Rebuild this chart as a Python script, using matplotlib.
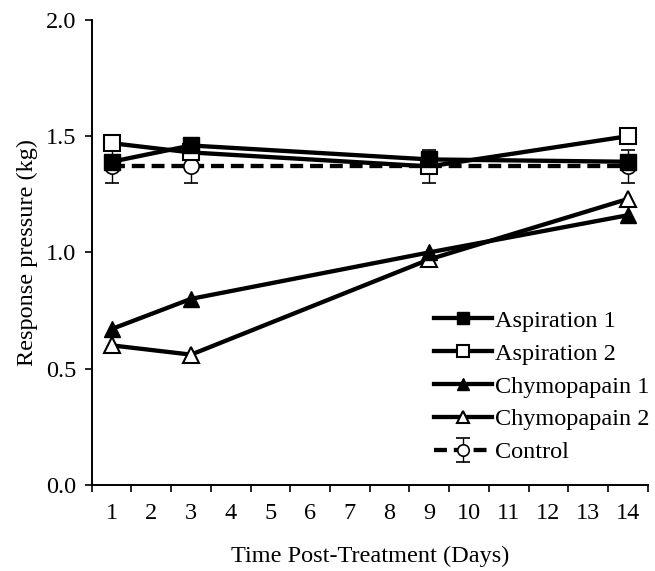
import numpy as np
import matplotlib
matplotlib.use("Agg")
import matplotlib.pyplot as plt

plt.rcParams['font.family'] = ['Liberation Serif', 'DejaVu Serif']

# Data
days = [1, 3, 9, 14]
aspiration_1 = [1.39, 1.46, 1.40, 1.39]
aspiration_2 = [1.47, 1.43, 1.37, 1.50]
chymopapain_1 = [0.67, 0.80, 1.00, 1.16]
chymopapain_2 = [0.60, 0.56, 0.97, 1.23]
control = [1.37, 1.37, 1.37, 1.37]
control_err = [0.07, 0.07, 0.07, 0.07]

tick_days = list(range(1, 15))
y_ticks = [0.0, 0.5, 1.0, 1.5, 2.0]

fs = 17.5
fig = plt.figure(figsize=(6.55, 5.71), dpi=100)
ax = fig.add_axes([0.140, 0.151, 0.849, 0.814])

lw = 3.1
ms = 11

ax.errorbar(days, control, yerr=control_err, fmt='o', color='black', mfc='white',
            ms=ms, mew=1.2, ls='--', lw=lw, dashes=(3, 1.6), ecolor='black',
            elinewidth=1, capsize=5, capthick=1, label='Control', zorder=2)
ax.plot(days, chymopapain_2, marker='^', color='black', mfc='white', ms=ms + 1,
        mew=1.5, lw=lw, label='Chymopapain 2', zorder=3)
ax.plot(days, chymopapain_1, marker='^', color='black', mfc='black', ms=ms + 1,
        lw=lw, label='Chymopapain 1', zorder=4)
ax.plot(days, aspiration_2, marker='s', color='black', mfc='white', ms=ms + 1,
        mew=1.5, lw=lw, label='Aspiration 2', zorder=5)
ax.plot(days, aspiration_1, marker='s', color='black', mfc='black', ms=ms + 1,
        lw=lw, label='Aspiration 1', zorder=6)

ax.set_xlim(0.5, 14.5)
ax.set_ylim(0, 2.0)
ax.set_xticks(tick_days)
ax.set_xticklabels([str(d) for d in tick_days])
ax.set_xticks(np.arange(0.5, 15, 1), minor=True)
ax.tick_params(axis='x', which='major', length=0, pad=13, labelsize=fs)
ax.tick_params(axis='x', which='minor', length=5, width=1.2, direction='out')
ax.set_yticks(y_ticks)
ax.set_yticklabels([f"{v:.1f}" for v in y_ticks])
ax.tick_params(axis='y', length=5, width=1.2, direction='out', labelsize=fs, pad=6)

for side in ['top', 'right']:
    ax.spines[side].set_visible(False)
for side in ['left', 'bottom']:
    ax.spines[side].set_linewidth(1.4)

ax.set_xlabel('Time Post-Treatment (Days)', fontsize=fs, labelpad=16)
ax.set_ylabel('Response pressure (kg)', fontsize=fs, labelpad=6)

handles, labels = ax.get_legend_handles_labels()
order = ['Aspiration 1', 'Aspiration 2', 'Chymopapain 1', 'Chymopapain 2', 'Control']
hmap = dict(zip(labels, handles))
leg = ax.legend([hmap[k] for k in order], order, loc='lower right',
                bbox_to_anchor=(1.02, 0.025), frameon=False, fontsize=fs,
                handlelength=2.4, handletextpad=0.1, labelspacing=0.45,
                markerscale=0.75, borderaxespad=0)

fig.savefig('out.png', dpi=100)
